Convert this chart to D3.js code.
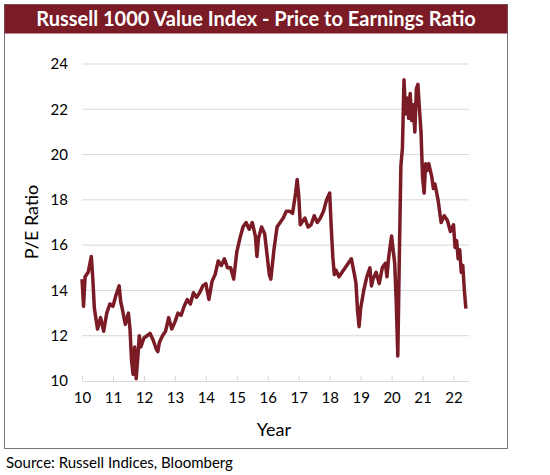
<!DOCTYPE html>
<html><head><meta charset="utf-8">
<script src="https://cdn.jsdelivr.net/npm/d3@7"></script>
<style>body{margin:0;background:#fff}svg text{font-family:Lato,"Open Sans",sans-serif}</style>
</head><body><svg id="c" width="550" height="475"></svg>
<script>
// P/E ratio (x = year, 2-digit)
var years = [10.0,10.05,10.1,10.2,10.3,10.35,10.4,10.5,10.6,10.7,10.8,10.9,11.0,11.1,11.2,11.25,11.3,11.4,11.5,11.55,11.6,11.65,11.7,11.75,11.8,11.85,11.9,12.0,12.1,12.2,12.3,12.4,12.45,12.5,12.6,12.7,12.8,12.9,13.0,13.1,13.2,13.3,13.4,13.5,13.6,13.7,13.8,13.9,14.0,14.1,14.2,14.3,14.4,14.5,14.6,14.7,14.8,14.9,15.0,15.1,15.2,15.3,15.4,15.5,15.6,15.65,15.7,15.8,15.9,16.0,16.05,16.1,16.2,16.3,16.4,16.5,16.6,16.7,16.8,16.9,16.95,17.0,17.05,17.1,17.2,17.3,17.4,17.5,17.6,17.7,17.8,17.9,18.0,18.05,18.1,18.15,18.2,18.3,18.4,18.5,18.6,18.7,18.8,18.85,18.9,18.95,19.0,19.1,19.2,19.3,19.35,19.4,19.5,19.6,19.7,19.8,19.85,19.9,20.0,20.05,20.1,20.15,20.2,20.25,20.3,20.35,20.4,20.45,20.5,20.55,20.6,20.65,20.7,20.75,20.8,20.85,20.9,20.95,21.0,21.05,21.1,21.15,21.2,21.3,21.35,21.4,21.5,21.55,21.6,21.7,21.8,21.9,22.0,22.05,22.1,22.15,22.2,22.25,22.3,22.35,22.4];
var pe = [14.5,13.3,14.6,14.8,15.5,14.5,13.2,12.3,12.8,12.2,13.0,13.4,13.3,13.8,14.2,13.5,13.2,12.5,13.0,12.3,10.9,10.3,11.5,10.1,11.0,12.0,11.5,11.9,12.0,12.1,11.8,11.4,11.3,11.7,12.0,12.2,12.8,12.3,12.6,13.0,12.9,13.3,13.6,13.4,13.9,13.7,13.9,14.2,14.3,13.6,14.4,14.7,15.3,15.1,15.4,15.0,15.0,14.5,15.7,16.3,16.8,17.0,16.7,17.0,16.4,15.5,16.3,16.8,16.5,15.3,14.7,14.5,15.8,16.8,17.0,17.2,17.5,17.5,17.4,18.3,18.9,18.2,16.9,17.0,17.2,16.8,16.9,17.3,17.0,17.2,17.5,18.0,18.3,16.8,15.5,14.7,14.9,14.6,14.8,15.0,15.2,15.4,14.7,14.3,13.1,12.4,13.2,14.0,14.6,15.0,14.2,14.5,14.8,14.3,15.0,15.2,14.6,15.4,16.4,15.8,15.2,13.5,11.1,15.5,19.5,20.3,23.3,21.8,22.5,21.6,22.7,21.5,22.2,21.0,22.9,23.1,22.0,21.0,19.0,18.3,19.6,19.3,19.6,19.0,18.5,18.7,18.0,17.5,17.0,17.3,17.1,16.6,16.9,15.9,16.2,15.4,15.8,14.8,15.1,14.0,13.2];
var xTicks = [10,11,12,13,14,15,16,17,18,19,20,21,22];
var yTicks = [10,12,14,16,18,20,22,24];

var svg = d3.select('#c');
var red = '#7a1b26';

svg.append('rect').attr('x',4.5).attr('y',4.5).attr('width',503).attr('height',444)
  .attr('fill','#fff').attr('stroke','#777');
svg.append('rect').attr('x',4.5).attr('y',4.5).attr('width',503).attr('height',29).attr('fill',red);
svg.append('text').attr('x',256).attr('y',26).attr('text-anchor','middle')
  .attr('fill','#fff').attr('font-size',20).attr('font-weight','bold')
  .text('Russell 1000 Value Index - Price to Earnings Ratio');

var x = d3.scaleLinear().domain([10,22.5]).range([82,469]);
var y = d3.scaleLinear().domain([10,24]).range([381,64]);

// gridlines
svg.append('g').selectAll('line').data(yTicks.slice(1)).enter().append('line')
  .attr('x1',82).attr('x2',469).attr('y1',function(d){return y(d);}).attr('y2',function(d){return y(d);})
  .attr('stroke','#d9d9d9');

var gy = svg.append('g').attr('transform','translate(82,0)')
  .call(d3.axisLeft(y).tickValues(yTicks).tickSize(0).tickPadding(14));
gy.select('.domain').remove();
gy.selectAll('text').attr('font-size',15).attr('fill','#000');

var gx = svg.append('g').attr('transform','translate(0,381)')
  .call(d3.axisBottom(x).tickValues(xTicks).tickSize(5).tickSizeOuter(0).tickPadding(6));
gx.select('.domain').attr('stroke','#d9d9d9');
gx.selectAll('.tick line').attr('stroke','#d9d9d9').attr('transform','translate(0,-5)');
gx.selectAll('text').attr('font-size',15).attr('fill','#000');

var line = d3.line().x(function(d,i){return x(years[i]);}).y(function(d){return y(d);});
svg.append('path').datum(pe).attr('d',line).attr('fill','none')
  .attr('stroke',red).attr('stroke-width',3.5).attr('stroke-linejoin','round');

svg.append('text').attr('transform','translate(38,222) rotate(-90)').attr('text-anchor','middle')
  .attr('font-size',18).text('P/E Ratio');
svg.append('text').attr('x',274).attr('y',436).attr('text-anchor','middle')
  .attr('font-size',18).text('Year');
svg.append('text').attr('x',6).attr('y',468).attr('font-size',15).text('Source: Russell Indices, Bloomberg');
</script></body></html>
